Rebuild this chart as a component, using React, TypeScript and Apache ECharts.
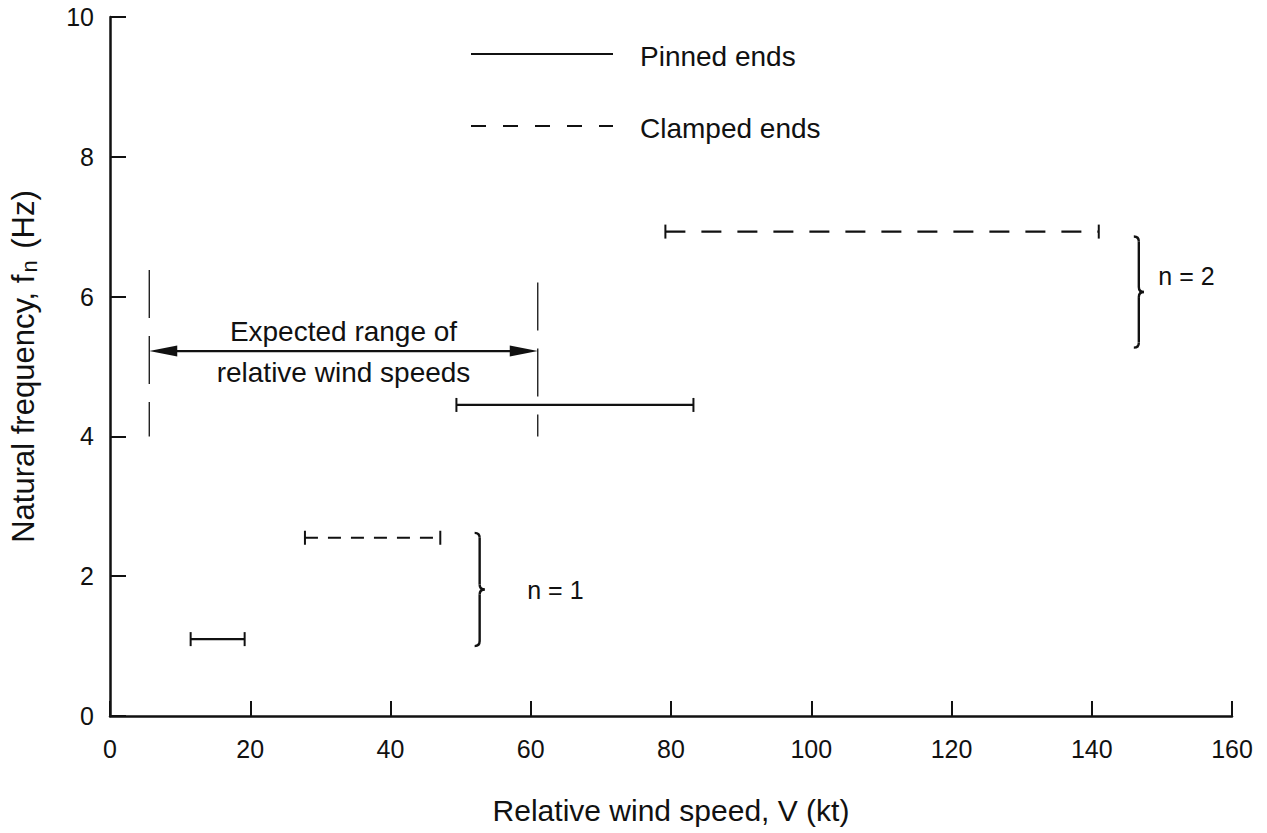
import React, { useEffect, useRef } from 'react';
import * as echarts from 'echarts';

// ---- data ----
const modeLabels = ['n = 1', 'n = 2'];
const pinnedFreq = [1.1, 4.45];
const pinnedFrom = [11.5, 49.4];
const pinnedTo = [19.2, 83.2];
const clampedFreq = [2.55, 6.93];
const clampedFrom = [27.8, 79.2];
const clampedTo = [47.1, 141.0];
const braceSpeed = [52.0, 146.0];
const braceLow = [1.0, 5.27];
const braceHigh = [2.62, 6.86];
const modeLabelSpeed = [59.5, 149.5];
const modeLabelFreq = [1.8, 6.3];
const expectedSpeeds = [5.6, 61.0];
const expectedFreqLow = [4.0, 4.0];
const expectedFreqHigh = [6.38, 6.2];
const expectedArrowFreq = 5.22;
const expectedText = ['Expected range of', 'relative wind speeds'];
const legendNames = ['Pinned ends', 'Clamped ends'];

const INK = '#111';
const FONT = '"Liberation Sans", Arial, Helvetica, sans-serif';
const clampedDash = [[13, 10], [20, 16]];

function rangeSeries(name: string, from: number[], to: number[], freq: number[], dashed: boolean) {
  return {
    type: 'custom',
    name,
    data: freq.map((f, i) => [from[i], to[i], f]),
    encode: { x: [0, 1], y: 2 },
    renderItem: (params: any, api: any) => {
      const a = api.coord([api.value(0), api.value(2)]);
      const b = api.coord([api.value(1), api.value(2)]);
      const cap = 7;
      return {
        type: 'group',
        children: [
          {
            type: 'line',
            shape: { x1: a[0], y1: a[1], x2: b[0], y2: b[1] },
            style: { stroke: INK, lineWidth: 2.2, lineDash: dashed ? clampedDash[params.dataIndex] : null },
          },
          { type: 'line', shape: { x1: a[0], y1: a[1] - cap, x2: a[0], y2: a[1] + cap }, style: { stroke: INK, lineWidth: 2 } },
          { type: 'line', shape: { x1: b[0], y1: b[1] - cap, x2: b[0], y2: b[1] + cap }, style: { stroke: INK, lineWidth: 2 } },
        ],
      };
    },
  };
}

export default function App() {
  const ref = useRef<HTMLDivElement>(null);
  useEffect(() => {
    document.body.style.margin = '0';
    const chart = echarts.init(ref.current!, null, { renderer: 'svg' });
    const option: any = {
      animation: false,
      backgroundColor: '#fff',
      grid: { left: 110, right: 35, top: 17, bottom: 117, containLabel: false, outerBoundsMode: 'none' },
      xAxis: {
        type: 'value', min: 0, max: 160, interval: 20,
        name: 'Relative wind speed, V (kt)', nameLocation: 'middle', nameGap: 79,
        nameTextStyle: { fontSize: 30, color: INK, fontFamily: FONT },
        axisLine: { show: true, lineStyle: { color: INK, width: 2.5 } },
        axisTick: { show: true, inside: true, length: 15, lineStyle: { color: INK, width: 2 } },
        axisLabel: { fontSize: 25, color: INK, fontFamily: FONT, margin: 20 },
        splitLine: { show: false },
      },
      yAxis: {
        type: 'value', min: 0, max: 10, interval: 2,
        name: 'Natural frequency, f{sub|n} (Hz)', nameLocation: 'middle', nameGap: 70, nameRotate: 90,
        nameTextStyle: {
          fontSize: 31, color: INK, fontFamily: FONT,
          rich: { sub: { fontSize: 22, color: INK, fontFamily: FONT, padding: [12, 3, 0, 2] } },
        },
        axisLine: { show: true, lineStyle: { color: INK, width: 2.5 } },
        axisTick: { show: true, inside: true, length: 16, lineStyle: { color: INK, width: 2 } },
        axisLabel: { fontSize: 25, color: INK, fontFamily: FONT, margin: 16 },
        splitLine: { show: false },
      },
      graphic: [
        { type: 'line', shape: { x1: 471, y1: 54, x2: 613, y2: 54 }, style: { stroke: INK, lineWidth: 2.2 } },
        { type: 'text', x: 640, y: 56, style: { text: legendNames[0], fontSize: 28, fontFamily: FONT, fill: INK, verticalAlign: 'middle' } },
        { type: 'line', shape: { x1: 471, y1: 126, x2: 613, y2: 126 }, style: { stroke: INK, lineWidth: 2.2, lineDash: [15, 17] } },
        { type: 'text', x: 640, y: 128, style: { text: legendNames[1], fontSize: 28, fontFamily: FONT, fill: INK, verticalAlign: 'middle' } },
      ],
      series: [
        rangeSeries(legendNames[0], pinnedFrom, pinnedTo, pinnedFreq, false),
        rangeSeries(legendNames[1], clampedFrom, clampedTo, clampedFreq, true),
        {
          type: 'custom',
          name: 'expected bounds',
          data: expectedSpeeds.map((s, i) => [s, expectedFreqLow[i], expectedFreqHigh[i]]),
          encode: { x: 0, y: [1, 2] },
          renderItem: (_p: any, api: any) => {
            const a = api.coord([api.value(0), api.value(1)]);
            const b = api.coord([api.value(0), api.value(2)]);
            return {
              type: 'line',
              shape: { x1: b[0], y1: b[1], x2: a[0], y2: a[1] },
              style: { stroke: INK, lineWidth: 1.3, lineDash: [48, 18] },
            };
          },
        },
        {
          type: 'custom',
          name: 'expected arrow',
          data: [[expectedSpeeds[0], expectedSpeeds[1], expectedArrowFreq]],
          encode: { x: [0, 1], y: 2 },
          renderItem: (_p: any, api: any) => {
            const a = api.coord([api.value(0), api.value(2)]);
            const b = api.coord([api.value(1), api.value(2)]);
            const hl = 28, hw = 5.5;
            const cx = (a[0] + b[0]) / 2;
            return {
              type: 'group',
              children: [
                { type: 'line', shape: { x1: a[0] + hl - 4, y1: a[1], x2: b[0] - hl + 4, y2: b[1] }, style: { stroke: INK, lineWidth: 2.2 } },
                { type: 'polygon', shape: { points: [[a[0], a[1]], [a[0] + hl, a[1] - hw], [a[0] + hl, a[1] + hw]] }, style: { fill: INK } },
                { type: 'polygon', shape: { points: [[b[0], b[1]], [b[0] - hl, b[1] - hw], [b[0] - hl, b[1] + hw]] }, style: { fill: INK } },
                { type: 'text', x: cx, y: a[1] - 20, style: { text: expectedText[0], fontSize: 28, fontFamily: FONT, fill: INK, align: 'center', verticalAlign: 'middle' } },
                { type: 'text', x: cx, y: a[1] + 21, style: { text: expectedText[1], fontSize: 28, fontFamily: FONT, fill: INK, align: 'center', verticalAlign: 'middle' } },
              ],
            };
          },
        },
        {
          type: 'custom',
          name: 'modes',
          data: braceSpeed.map((s, i) => [s, braceLow[i], braceHigh[i], modeLabelSpeed[i], modeLabelFreq[i]]),
          encode: { x: [0, 3], y: [1, 2] },
          renderItem: (params: any, api: any) => {
            const t = api.coord([api.value(0), api.value(2)]);
            const bt = api.coord([api.value(0), api.value(1)]);
            const lp = api.coord([api.value(3), api.value(4)]);
            const x0 = t[0], yT = t[1], yB = bt[1], ym = (yT + yB) / 2, w = 5;
            const st = { stroke: INK, lineWidth: 2.4, fill: null };
            return {
              type: 'group',
              children: [
                { type: 'bezierCurve', shape: { x1: x0, y1: yT, cpx1: x0 + w, cpy1: yT, x2: x0 + w, y2: yT + w }, style: st },
                { type: 'line', shape: { x1: x0 + w, y1: yT + w, x2: x0 + w, y2: ym - w }, style: st },
                { type: 'bezierCurve', shape: { x1: x0 + w, y1: ym - w, cpx1: x0 + w, cpy1: ym, x2: x0 + 2 * w, y2: ym }, style: st },
                { type: 'bezierCurve', shape: { x1: x0 + 2 * w, y1: ym, cpx1: x0 + w, cpy1: ym, x2: x0 + w, y2: ym + w }, style: st },
                { type: 'line', shape: { x1: x0 + w, y1: ym + w, x2: x0 + w, y2: yB - w }, style: st },
                { type: 'bezierCurve', shape: { x1: x0 + w, y1: yB - w, cpx1: x0 + w, cpy1: yB, x2: x0, y2: yB }, style: st },
                { type: 'text', x: lp[0], y: lp[1], style: { text: modeLabels[params.dataIndex], fontSize: 25, fontFamily: FONT, fill: INK, align: 'left', verticalAlign: 'middle' } },
              ],
            };
          },
        },
      ],
    };
    chart.setOption(option);
    return () => chart.dispose();
  }, []);
  return <div ref={ref} style={{ width: 1267, height: 833 }} />;
}
